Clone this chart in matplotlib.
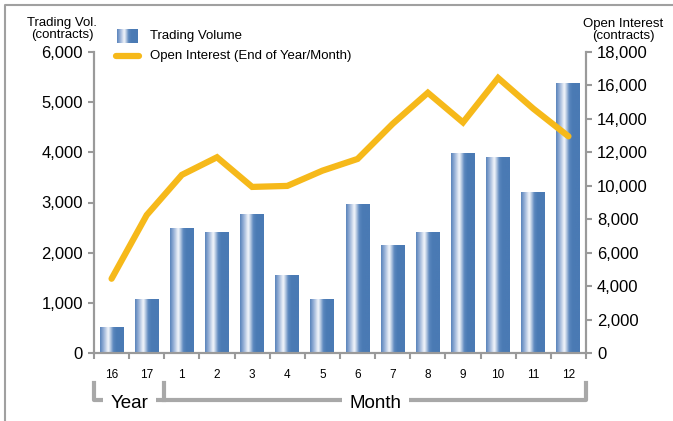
import numpy as np
import matplotlib.pyplot as plt
from matplotlib.colors import LinearSegmentedColormap
from matplotlib.lines import Line2D
import matplotlib.transforms as mtransforms

plt.rcParams['font.family'] = ['Liberation Sans', 'DejaVu Sans']

# data
categories = ['16', '17', '1', '2', '3', '4', '5', '6', '7', '8', '9', '10', '11', '12']
trading_volume = [500, 1060, 2470, 2390, 2765, 1540, 1060, 2945, 2130, 2390, 3975, 3895, 3200, 5365]
open_interest = [4450, 8250, 10650, 11700, 9930, 9990, 10900, 11600, 13700, 15550, 13780, 16430, 14600, 12950]

W, H = 673, 421
fig = plt.figure(figsize=(W / 100, H / 100), dpi=100)
ax = fig.add_axes([94 / W, 1 - 353.3 / H, 492 / W, 301.6 / H])

bar_blue = '#4a7ab4'
axis_gray = '#9a9a9a'
line_yellow = '#f6b91a'

# horizontal shading used inside the bars
shade = LinearSegmentedColormap.from_list('shade', [
    (0.0, '#5a84bb'), (0.12, '#8ca8d2'), (0.35, '#f6f8fc'),
    (0.56, '#5a86bd'), (0.7, bar_blue), (1.0, bar_blue)])
grad = np.linspace(0, 1, 64).reshape(1, -1)

x = np.arange(len(categories))
bars = ax.bar(x, trading_volume, width=0.68, color='none', edgecolor='none', zorder=2)
for b in bars:
    x0, y0 = b.get_x(), b.get_y()
    ax.imshow(grad, cmap=shade, extent=[x0, x0 + b.get_width(), y0, y0 + b.get_height()],
              aspect='auto', interpolation='bicubic', zorder=2)

ax.set_xlim(-0.5, len(categories) - 0.5)
ax.set_ylim(0, 6000)
ax.set_yticks(range(0, 6001, 1000))
ax.set_yticklabels([f'{v:,}' for v in range(0, 6001, 1000)], fontsize=12)
ax.set_xticks(x)
ax.set_xticklabels(categories, fontsize=8.5)
ax.set_xticks(np.arange(-0.5, len(categories)), minor=True)
ax.tick_params(axis='x', which='major', length=0, pad=11)
ax.tick_params(axis='x', which='minor', length=4, width=1.5, color=axis_gray)
ax.tick_params(axis='y', length=4, width=1.5, color=axis_gray, pad=4)

ax2 = ax.twinx()
ax2.plot(x, open_interest, color=line_yellow, lw=4.5, solid_capstyle='round',
         solid_joinstyle='miter', zorder=3)
ax2.set_ylim(0, 18000)
ax2.set_yticks(range(0, 18001, 2000))
ax2.set_yticklabels([f'{v:,}' for v in range(0, 18001, 2000)], fontsize=12)
ax2.tick_params(axis='y', length=4, width=1.5, color=axis_gray, pad=4)

for a in (ax, ax2):
    a.spines['top'].set_visible(False)
    for s in ('left', 'right', 'bottom'):
        a.spines[s].set_color(axis_gray)
        a.spines[s].set_linewidth(1.5)

# axis titles
fig.text(62 / W, 1 - 29 / H, 'Trading Vol.\n(contracts)', ha='center', va='center',
         fontsize=9.5, linespacing=0.95)
fig.text(623 / W, 1 - 30 / H, 'Open Interest\n(contracts)', ha='center', va='center',
         fontsize=9.5, linespacing=0.95)

# legend
lax = fig.add_axes([117 / W, 1 - 43 / H, 21 / W, 14 / H])
lax.imshow(grad, cmap=shade, aspect='auto', interpolation='bicubic')
lax.axis('off')
fig.add_artist(Line2D([116 / W, 139 / W], [1 - 56 / H, 1 - 56 / H], color=line_yellow,
                      lw=4.5, solid_capstyle='round', transform=fig.transFigure))
fig.text(150 / W, 1 - 36 / H, 'Trading Volume', va='center', fontsize=9.5)
fig.text(150 / W, 1 - 56 / H, 'Open Interest (End of Year/Month)', va='center', fontsize=9.5)

# Year / Month brackets under the axis
trans = mtransforms.blended_transform_factory(ax.transData, ax.transAxes)
y_top, y_bot = -0.098, -0.155
bracket_gray = '#a8a8a8'
n = len(categories)
ax.add_line(Line2D([-0.5, -0.5, n - 0.5, n - 0.5], [y_top, y_bot, y_bot, y_top],
                   color=bracket_gray, lw=3, transform=trans, clip_on=False, zorder=1))
ax.add_line(Line2D([1.5, 1.5], [y_top, y_bot], color=bracket_gray, lw=3,
                   transform=trans, clip_on=False, zorder=1))
ax.text(0.5, y_bot - 0.01, 'Year', transform=trans, ha='center', va='center', fontsize=13.5,
        bbox=dict(boxstyle='square,pad=0.4', fc='white', ec='none'), zorder=5)
ax.text(7.5, y_bot - 0.01, 'Month', transform=trans, ha='center', va='center', fontsize=13.5,
        bbox=dict(boxstyle='square,pad=0.4', fc='white', ec='none'), zorder=5)

# outer frame (top and left edges)
fig.add_artist(Line2D([4.5 / W, 4.5 / W, 1], [0, 1 - 5 / H, 1 - 5 / H], color='#a0a0a0',
                      lw=1.5, transform=fig.transFigure))

fig.savefig('out.png', dpi=100)
